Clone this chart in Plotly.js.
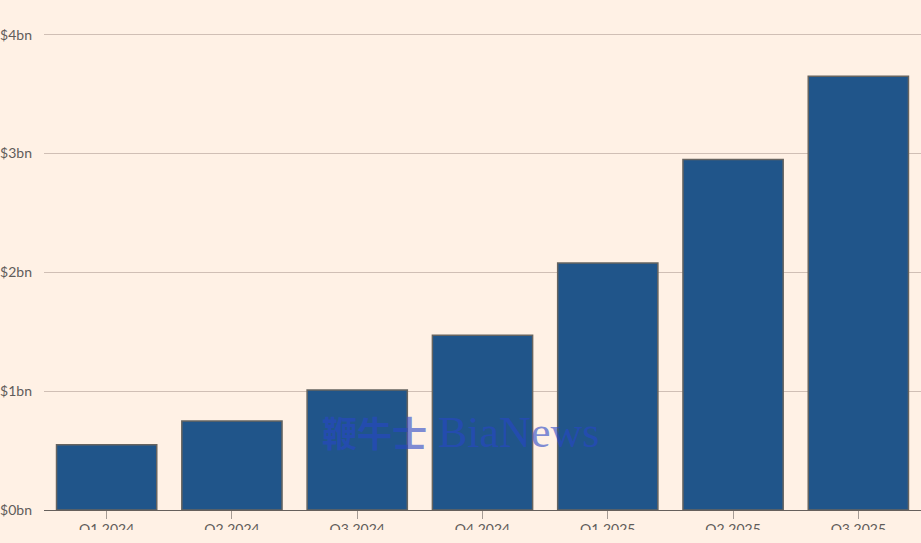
<!DOCTYPE html>
<html>
<head>
<meta charset="utf-8">
<script src="https://cdn.plot.ly/plotly-3.0.1.min.js"></script>
<style>
html,body{margin:0;padding:0;background:#fff1e5;overflow:hidden}
#chart{width:921px;height:530px}
</style>
</head>
<body>
<div id="chart"></div>
<script>
const quarters = ["Q1 2024","Q2 2024","Q3 2024","Q4 2024","Q1 2025","Q2 2025","Q3 2025"];
const revenue = [0.55,0.75,1.01,1.47,2.08,2.95,3.65];
const yTicks = [0,1,2,3,4];
const yLabels = ["$0bn","$1bn","$2bn","$3bn","$4bn"];
const watermarkCn = "鞭牛士";
const watermarkEn = "BiaNews";

Plotly.newPlot("chart",[{
  type:"bar",
  x:quarters,
  y:revenue,
  marker:{color:"#20558a",line:{color:"#666460",width:1.5}},
  hoverinfo:"skip"
}],{
  width:921,height:530,
  margin:{l:44,r:0,t:11,b:20,pad:0},
  paper_bgcolor:"#fff1e5",
  plot_bgcolor:"#fff1e5",
  bargap:0.2,
  showlegend:false,
  font:{family:"Lato, sans-serif",size:14,color:"#66605c"},
  xaxis:{
    type:"category",
    range:[-0.5,6.5],
    showgrid:false,zeroline:false,
    showline:true,linecolor:"#66605c",linewidth:1,
    ticks:"outside",ticklen:8,tickcolor:"#a59b94",tickwidth:1,
    ticklabelstandoff:-2,
    tickfont:{family:"Lato, sans-serif",size:14,color:"#5f5c5a"}
  },
  yaxis:{
    range:[0,4.2],
    tickvals:yTicks,ticktext:yLabels,
    showgrid:true,gridcolor:"#d0bfb5",gridwidth:1,
    zeroline:false,showline:false,
    ticks:"",ticklabelstandoff:11,
    tickfont:{family:"Lato, sans-serif",size:14,color:"#5f5c5a"}
  },
  annotations:[{
    text:'<b><span style="font-size:35px">'+watermarkCn+'</span></b> '+watermarkEn,
    xref:"paper",yref:"paper",
    x:(460-44)/877,y:(510-432)/499,
    showarrow:false,xanchor:"center",yanchor:"middle",
    font:{family:"'Liberation Serif','Noto Sans CJK SC',serif",size:44,color:"rgba(40,70,200,0.6)"}
  }]
},{displayModeBar:false,staticPlot:true});
</script>
</body>
</html>
